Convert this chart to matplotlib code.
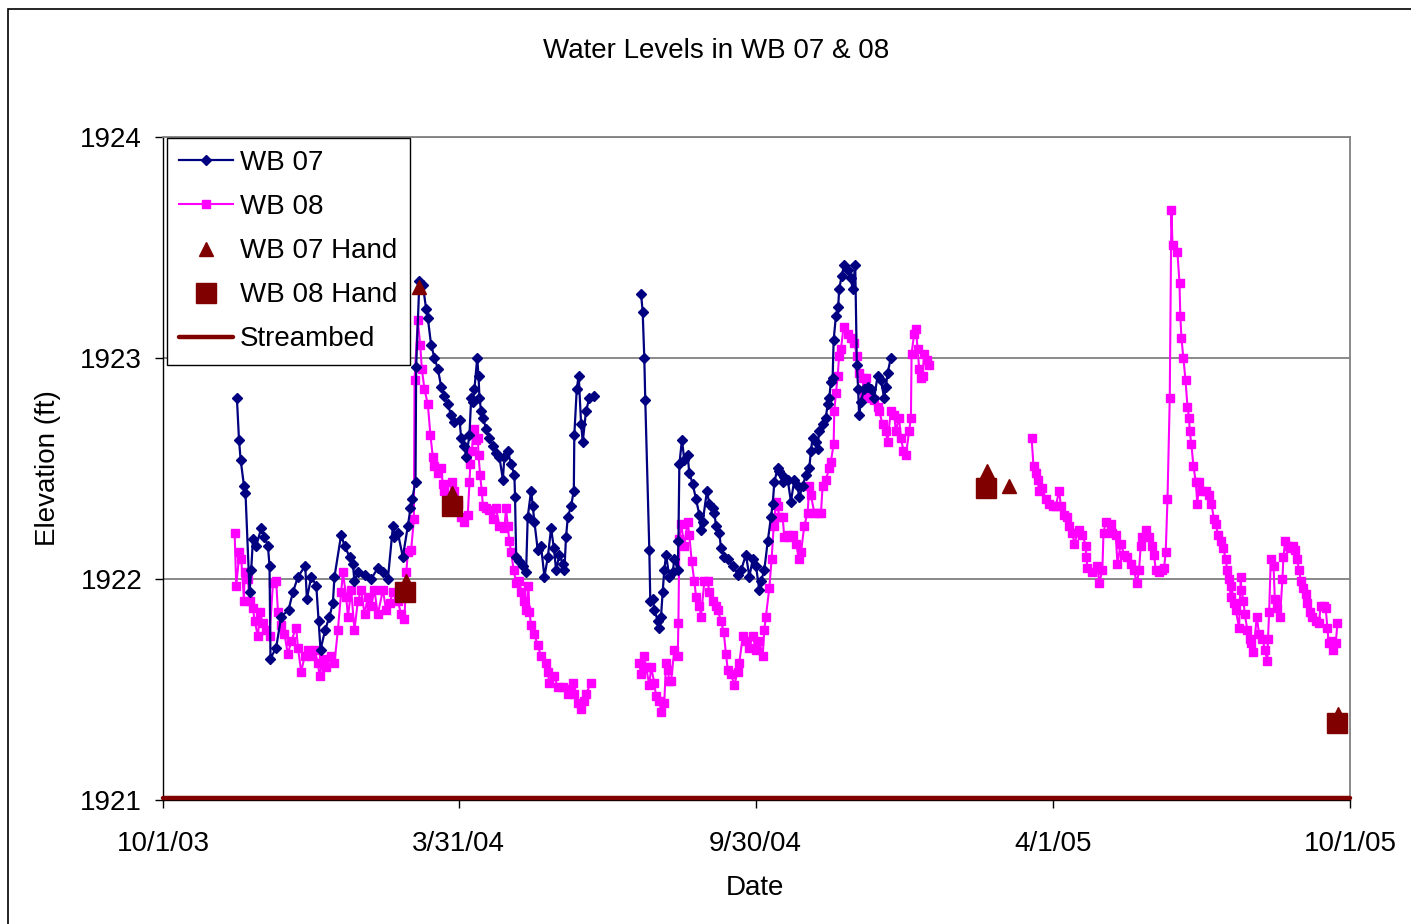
import numpy as np
import pandas as pd
import matplotlib
matplotlib.use("Agg")
import matplotlib.pyplot as plt
from matplotlib.patches import Rectangle

plt.rcParams['font.family'] = ['Liberation Sans', 'DejaVu Sans']

nan = float('nan')
start = pd.Timestamp('2003-10-01')

##### data: days after 10/1/03 and elevation (ft), nan = gap in record #####
wb07_day = [45.5, 46.8, 47.8, 49.9, 50.8, 53.3, 54.3, 55.4, 57.4, 60.5, 62.5, 64.6, 65.6, 66.2,
            69.7, 72.8, 77.3, 80.0, 83.1, 87.6, 88.6, 91.3, 94.4, 95.8, 97.0, 99.9, 102.5, 104.6,
            105.6, 109.7, 111.8, 114.9, 116.9, 117.9, 120.0, 124.1, 128.2, 132.3, 135.4, 138.5,
            141.6, 142.5, 144.6, 147.7, 150.8, 152.4, 153.4, 155.5, 155.9, 157.9, 160.0, 162.1,
            163.1, 165.1, 167.2, 169.3, 171.3, 173.3, 175.4, 177.5, 179.5, 182.6, 183.6, 185.6,
            186.7, 188.7, 189.8, 190.8, 191.8, 193.5, 194.3, 194.9, 195.9, 197.0, 199.0, 201.0,
            203.1, 205.1, 207.2, 209.3, 210.2, 212.3, 214.4, 216.4, 216.8, 217.5, 219.5, 221.6,
            223.6, 224.6, 226.7, 227.7, 228.7, 230.8, 232.8, 234.9, 237.0, 239.0, 240.7, 242.1,
            244.1, 246.2, 247.2, 248.2, 249.3, 251.3, 253.0, 253.3, 254.8, 256.0, 257.5, 258.5,
            260.5, 262.6, 265.3,
            nan,
            294.4, 295.4, 296.4, 297.0, 299.5, 300.1, 301.6, 302.6, 304.7, 305.7, 306.7, 307.7,
            308.7, 309.8, 311.8, 313.9, 314.9, 317.0, 317.4, 318.0, 319.6, 321.0, 323.1, 324.1,
            326.2, 328.3, 330.3, 331.3, 332.4, 335.0, 336.4, 338.5, 339.5, 340.6, 342.6, 343.6,
            345.7, 347.8, 350.8, 353.9, 356.0, 359.0, 361.1, 363.2, 365.2, 367.2, 368.3, 370.3,
            372.4, 374.4, 375.5, 376.5, 378.5, 379.5, 381.6, 382.6, 384.7, 386.7, 388.8, 390.8,
            391.8, 393.9, 395.9, 398.0, 399.0, 400.1, 402.1, 403.1, 404.1, 406.2, 408.2, 409.3,
            410.3, 411.3, 412.4, 413.0, 414.4, 415.8, 416.4, 417.9, 419.5, 421.6, 423.6, 424.7,
            426.3, 427.3, 428.1, 428.7, 429.8, 431.8, 433.9, 435.9, 438.0, 440.1, 442.1, 444.1,
            445.2, 446.2, 448.2]
wb07_ft = [1922.82, 1922.63, 1922.54, 1922.42, 1922.39, 1921.94, 1922.04, 1922.18, 1922.15, 1922.23,
           1922.19, 1922.15, 1922.06, 1921.64, 1921.69, 1921.83, 1921.86, 1921.94, 1922.01, 1922.06,
           1921.91, 1922.01, 1921.97, 1921.81, 1921.68, 1921.77, 1921.83, 1921.89, 1922.01, 1922.20,
           1922.15, 1922.10, 1922.07, 1921.99, 1922.03, 1922.02, 1922.00, 1922.05, 1922.03, 1922.00,
           1922.24, 1922.19, 1922.21, 1922.10, 1922.24, 1922.32, 1922.36, 1922.44, 1922.96, 1923.35,
           1923.33, 1923.22, 1923.18, 1923.06, 1923.00, 1922.95, 1922.87, 1922.83, 1922.79, 1922.74,
           1922.71, 1922.72, 1922.64, 1922.60, 1922.55, 1922.65, 1922.82, 1922.80, 1922.86, 1923.00,
           1922.92, 1922.82, 1922.76, 1922.73, 1922.68, 1922.64, 1922.60, 1922.57, 1922.55, 1922.45,
           1922.55, 1922.58, 1922.52, 1922.47, 1922.37, 1922.10, 1922.08, 1922.06, 1922.03, 1922.28,
           1922.40, 1922.33, 1922.26, 1922.13, 1922.15, 1922.01, 1922.10, 1922.23, 1922.14, 1922.04,
           1922.11, 1922.07, 1922.04, 1922.19, 1922.28, 1922.33, 1922.40, 1922.65, 1922.86, 1922.92,
           1922.70, 1922.62, 1922.76, 1922.82, 1922.83,
           nan,
           1923.29, 1923.21, 1923.00, 1922.81, 1922.13, 1921.90, 1921.91, 1921.86, 1921.81, 1921.78,
           1921.83, 1921.94, 1922.04, 1922.11, 1922.01, 1922.03, 1922.09, 1922.04, 1922.17, 1922.52,
           1922.63, 1922.54, 1922.56, 1922.48, 1922.43, 1922.36, 1922.29, 1922.22, 1922.26, 1922.40,
           1922.34, 1922.32, 1922.30, 1922.24, 1922.21, 1922.14, 1922.10, 1922.09, 1922.06, 1922.02,
           1922.04, 1922.11, 1922.01, 1922.09, 1922.06, 1921.95, 1921.99, 1922.04, 1922.17, 1922.28,
           1922.34, 1922.44, 1922.50, 1922.49, 1922.44, 1922.46, 1922.45, 1922.35, 1922.45, 1922.42,
           1922.37, 1922.42, 1922.47, 1922.50, 1922.58, 1922.64, 1922.62, 1922.59, 1922.67, 1922.70,
           1922.73, 1922.79, 1922.82, 1922.89, 1922.91, 1923.08, 1923.19, 1923.23, 1923.31, 1923.37,
           1923.42, 1923.40, 1923.36, 1923.31, 1923.42, 1922.97, 1922.86, 1922.74, 1922.80, 1922.86,
           1922.87, 1922.86, 1922.82, 1922.92, 1922.90, 1922.82, 1922.87, 1922.93, 1923.00]

wb08_day = [44.1, 45.1, 47.1, 48.2, 49.9, 50.2, 52.3, 53.3, 55.4, 56.4, 58.5, 59.5, 61.5, 63.6,
            65.6, 67.7, 69.7, 70.8, 72.8, 74.8, 76.9, 79.0, 82.0, 83.1, 85.1, 87.2, 89.2, 91.3,
            93.3, 95.4, 96.4, 98.5, 100.5, 103.6, 105.6, 107.7, 109.7, 110.8, 112.8, 113.9, 115.9,
            117.9, 120.0, 122.1, 124.1, 126.2, 128.2, 130.2, 132.3, 135.4, 137.4, 139.5, 141.6,
            144.6, 146.7, 148.7, 149.8, 150.8, 152.8, 154.5, 154.9, 156.9, 158.4, 159.4, 161.0,
            163.1, 164.7, 166.2, 167.2, 169.3, 171.3, 172.3, 173.3, 177.9, 179.5, 181.6, 183.6,
            185.6, 187.7, 188.7, 189.3, 190.2, 191.4, 192.8, 193.9, 194.3, 195.3, 196.3, 197.0,
            199.0, 201.0, 203.1, 205.1, 207.2, 210.2, 211.3, 212.3, 213.3, 214.4, 216.0, 217.5,
            219.5, 220.6, 222.6, 223.6, 225.0, 225.7, 226.7, 228.7, 230.8, 232.8, 235.9, 237.0,
            237.9, 241.0, 243.1, 246.2, 249.3, 251.3, 252.4, 253.3, 255.4, 257.5, 259.5, 260.5,
            263.6,
            nan,
            293.3, 294.4, 296.4, 297.5, 299.5, 300.6, 302.6, 303.6, 305.7, 306.7, 308.7, 309.8,
            310.8, 311.8, 312.9, 314.9, 317.0, 317.4, 318.0, 319.1, 321.0, 323.1, 324.1, 325.6,
            327.2, 328.3, 330.3, 331.3, 333.4, 335.5, 336.4, 338.5, 340.6, 341.6, 343.6, 345.3,
            346.7, 347.8, 349.8, 351.8, 353.9, 354.9, 357.0, 359.0, 361.1, 363.2, 365.2, 367.2,
            369.3, 370.3, 371.3, 373.4, 374.8, 376.1, 377.5, 378.5, 379.5, 381.6, 382.6, 384.7,
            385.7, 387.8, 389.8, 391.8, 392.9, 394.9, 397.0, 398.0, 399.0, 401.1, 403.1, 405.2,
            406.2, 408.2, 410.3, 411.3, 413.0, 413.4, 414.4, 415.5, 416.4, 417.5, 419.1, 421.6,
            423.6, 425.7, 427.3, 428.7, 430.8, 431.8, 432.8, 433.9, 435.9, 438.0, 440.1, 441.1,
            443.1, 445.2, 446.2, 448.2, 450.3, 451.3, 453.3, 454.4, 456.0, 457.5, 459.5, 460.6,
            461.0, 462.6, 463.7, 464.7, 465.7, 466.8, 467.8, 468.8, 470.8, 471.9,
            nan,
            534.9, 536.1, 537.5, 538.6, 539.5, 541.6, 543.7, 545.7, 547.8, 549.8, 551.9, 552.9,
            555.0, 557.0, 558.0, 560.1, 561.1, 564.2, 566.2, 568.3, 568.6, 569.3, 572.4, 575.5,
            576.5, 578.5, 579.2, 580.6, 583.7, 584.7, 586.7, 587.8, 589.8, 591.9, 593.9, 596.0,
            598.0, 599.7, 601.1, 602.1, 603.2, 605.2, 607.3, 609.3, 610.3, 611.4, 613.4, 615.5,
            616.5, 617.5, 618.6, 620.0, 621.0, 621.7, 624.7, 626.0, 626.5, 627.2, 628.4, 629.7,
            630.9, 631.9, 632.3, 633.3, 634.6, 636.0, 637.0, 638.0, 640.1, 642.1, 644.2, 645.6,
            647.3, 648.3, 649.7, 651.4, 653.0, 654.4, 655.5, 656.5, 657.5, 658.0, 659.6, 660.6,
            662.7, 663.7, 664.1, 665.4, 666.2, 667.8, 669.4, 669.9, 671.5, 673.6, 675.0, 677.1,
            678.5, 680.1, 680.5, 681.2, 682.2, 683.9, 684.7, 686.3, 687.9, 689.4, 690.0, 691.1,
            692.6, 694.0, 695.6, 697.0, 698.3, 699.7, 700.7, 702.3, 703.7, 704.8, 706.4, 707.8,
            709.9, 711.9, 712.9, 714.8, 716.0, 717.1, 717.9, 719.1, 720.7, 722.2, 723.3]
wb08_ft = [1922.21, 1921.97, 1922.12, 1922.09, 1921.90, 1922.03, 1922.00, 1921.90, 1921.87, 1921.81,
           1921.74, 1921.85, 1921.80, 1921.77, 1921.74, 1921.98, 1921.99, 1921.85, 1921.79, 1921.75,
           1921.66, 1921.72, 1921.78, 1921.69, 1921.58, 1921.65, 1921.68, 1921.65, 1921.68, 1921.62,
           1921.56, 1921.64, 1921.60, 1921.65, 1921.62, 1921.77, 1921.94, 1922.03, 1921.92, 1921.83,
           1921.95, 1921.77, 1921.90, 1921.95, 1921.84, 1921.92, 1921.88, 1921.95, 1921.84, 1921.95,
           1921.86, 1921.89, 1921.94, 1921.90, 1921.84, 1921.82, 1922.03, 1922.12, 1922.13, 1922.27,
           1922.90, 1923.17, 1923.06, 1922.95, 1922.86, 1922.79, 1922.65, 1922.55, 1922.51, 1922.48,
           1922.50, 1922.43, 1922.40, 1922.44, 1922.40, 1922.34, 1922.28, 1922.26, 1922.29, 1922.44,
           1922.52, 1922.58, 1922.68, 1922.63, 1922.64, 1922.56, 1922.47, 1922.40, 1922.33, 1922.32,
           1922.31, 1922.27, 1922.32, 1922.24, 1922.23, 1922.32, 1922.24, 1922.17, 1922.12, 1922.04,
           1921.98, 1921.99, 1921.94, 1921.90, 1921.86, 1921.97, 1921.85, 1921.79, 1921.75, 1921.70,
           1921.65, 1921.62, 1921.58, 1921.53, 1921.56, 1921.51, 1921.51, 1921.48, 1921.50, 1921.53,
           1921.48, 1921.44, 1921.41, 1921.45, 1921.48, 1921.53,
           nan,
           1921.62, 1921.57, 1921.65, 1921.60, 1921.52, 1921.60, 1921.53, 1921.47, 1921.45, 1921.40,
           1921.44, 1921.62, 1921.59, 1921.54, 1921.54, 1921.68, 1921.65, 1921.80, 1922.18, 1922.25,
           1922.15, 1922.26, 1922.20, 1922.08, 1921.99, 1921.92, 1921.88, 1921.83, 1921.99, 1921.99,
           1921.94, 1921.90, 1921.88, 1921.86, 1921.81, 1921.76, 1921.66, 1921.59, 1921.57, 1921.52,
           1921.58, 1921.62, 1921.74, 1921.72, 1921.69, 1921.74, 1921.68, 1921.72, 1921.65, 1921.77,
           1921.83, 1921.96, 1922.09, 1922.24, 1922.35, 1922.33, 1922.28, 1922.28, 1922.19, 1922.20,
           1922.19, 1922.20, 1922.16, 1922.09, 1922.12, 1922.24, 1922.30, 1922.42, 1922.38, 1922.30,
           1922.30, 1922.30, 1922.42, 1922.45, 1922.50, 1922.53, 1922.61, 1922.76, 1922.84, 1922.92,
           1923.01, 1923.04, 1923.14, 1923.11, 1923.09, 1923.07, 1923.01, 1922.93, 1922.91, 1922.83,
           1922.91, 1922.84, 1922.82, 1922.81, 1922.78, 1922.76, 1922.70, 1922.67, 1922.62, 1922.76,
           1922.74, 1922.67, 1922.73, 1922.64, 1922.58, 1922.56, 1922.67, 1922.73, 1923.02, 1923.11,
           1923.13, 1923.04, 1922.95, 1922.91, 1922.92, 1923.02, 1922.99, 1922.97,
           nan,
           1922.64, 1922.51, 1922.48, 1922.45, 1922.40, 1922.41, 1922.36, 1922.34, 1922.33, 1922.33,
           1922.40, 1922.33, 1922.29, 1922.28, 1922.24, 1922.21, 1922.16, 1922.22, 1922.20, 1922.15,
           1922.10, 1922.05, 1922.03, 1922.06, 1921.98, 1922.04, 1922.21, 1922.26, 1922.25, 1922.21,
           1922.20, 1922.07, 1922.16, 1922.11, 1922.10, 1922.07, 1922.04, 1921.98, 1922.04, 1922.15,
           1922.19, 1922.22, 1922.19, 1922.15, 1922.11, 1922.04, 1922.03, 1922.04, 1922.05, 1922.12,
           1922.36, 1922.82, 1923.67, 1923.51, 1923.48, 1923.34, 1923.19, 1923.09, 1923.00, 1922.90,
           1922.78, 1922.73, 1922.67, 1922.61, 1922.51, 1922.44, 1922.34, 1922.44, 1922.40, 1922.40,
           1922.38, 1922.34, 1922.27, 1922.25, 1922.20, 1922.17, 1922.14, 1922.09, 1922.04, 1922.00,
           1921.92, 1921.97, 1921.89, 1921.86, 1921.78, 1922.01, 1921.95, 1921.90, 1921.84, 1921.77,
           1921.73, 1921.71, 1921.67, 1921.83, 1921.75, 1921.73, 1921.68, 1921.63, 1921.73, 1921.85,
           1922.09, 1922.06, 1921.91, 1921.87, 1921.83, 1922.00, 1922.10, 1922.17, 1922.15, 1922.14,
           1922.15, 1922.13, 1922.09, 1922.04, 1921.99, 1921.96, 1921.93, 1921.89, 1921.85, 1921.83,
           1921.81, 1921.80, 1921.88, 1921.88, 1921.87, 1921.78, 1921.71, 1921.72, 1921.68, 1921.71,
           1921.80]

wb07_hand_day = [149.7, 157.9, 178.1, 507.2, 520.7, 723.6]
wb07_hand_ft = [1921.99, 1923.32, 1922.39, 1922.49, 1922.42, 1921.39]
wb08_hand_day = [149.3, 178.1, 506.6, 723.2]
wb08_hand_ft = [1921.94, 1922.33, 1922.41, 1921.35]

streambed_day = [0, 731]
streambed_ft = [1921.01, 1921.01]

tick_dates = ['2003-10-01', '2004-03-31', '2004-09-30', '2005-04-01', '2005-10-01']
tick_labels = ['10/1/03', '3/31/04', '9/30/04', '4/1/05', '10/1/05']


def to_dates(days):
    return start + pd.to_timedelta(np.array(days, dtype=float), unit='D')


fig = plt.figure(figsize=(14.11, 9.24), dpi=100)
ax = fig.add_axes([163 / 1411, 1 - 800 / 924, 1187 / 1411, 663 / 924])

ax.plot(to_dates(wb07_day), wb07_ft, color='#000080', lw=1.6, marker='D', ms=5.0,
        label='WB 07', zorder=4)
ax.plot(to_dates(wb08_day), wb08_ft, color='#FF00FF', lw=1.5, marker='s', ms=5.2,
        label='WB 08', zorder=3)
ax.plot(to_dates(wb07_hand_day), wb07_hand_ft, ls='none', marker='^', ms=10,
        color='#800000', label='WB 07 Hand', zorder=6)
ax.plot(to_dates(wb08_hand_day), wb08_hand_ft, ls='none', marker='s', ms=14,
        color='#800000', label='WB 08 Hand', zorder=5)
ax.plot(to_dates(streambed_day), streambed_ft, color='#800000', lw=3.2,
        label='Streambed', zorder=7, clip_on=False, solid_capstyle='round')

ax.set_xlim(pd.Timestamp(tick_dates[0]), pd.Timestamp(tick_dates[-1]))
ax.set_ylim(1921, 1924)
ax.set_xticks([pd.Timestamp(d) for d in tick_dates])
ax.set_xticklabels(tick_labels)
ax.set_yticks([1921, 1922, 1923, 1924])
ax.set_yticklabels(['1921', '1922', '1923', '1924'])
ax.tick_params(axis='both', labelsize=20, length=6, width=1, direction='out', color='black')
ax.tick_params(axis='x', pad=16)
ax.tick_params(axis='y', pad=9)
ax.grid(axis='y', color='#808080', lw=1.3)
ax.set_axisbelow(True)
for side in ['top', 'right']:
    ax.spines[side].set_color('#808080')
    ax.spines[side].set_linewidth(1.3)
for side in ['left', 'bottom']:
    ax.spines[side].set_color('black')
    ax.spines[side].set_linewidth(1.0)

fig.text(0.5075, 1 - 51 / 924, 'Water Levels in WB 07 & 08', ha='center', va='center', fontsize=20)
fig.text(48 / 1411, 1 - 468 / 924, 'Elevation (ft)', ha='center', va='center', rotation=90, fontsize=20)
fig.text(755 / 1411, 1 - 888 / 924, 'Date', ha='center', va='center', fontsize=20)

leg = ax.legend(loc='upper left', bbox_to_anchor=(0.003, 0.999), borderaxespad=0,
                fontsize=20, numpoints=1, fancybox=False, framealpha=1, edgecolor='black',
                handlelength=1.95, handletextpad=0.25, labelspacing=0.65, borderpad=0.45)
leg.get_frame().set_linewidth(1.0)
leg.set_zorder(10)

# outer chart border
fig.patches.append(Rectangle((8 / 1411, -0.2), 1.5, 1.2 - 9 / 924,
                             transform=fig.transFigure, fill=False, edgecolor='black', lw=1.2))

fig.savefig('out.png', dpi=100)
